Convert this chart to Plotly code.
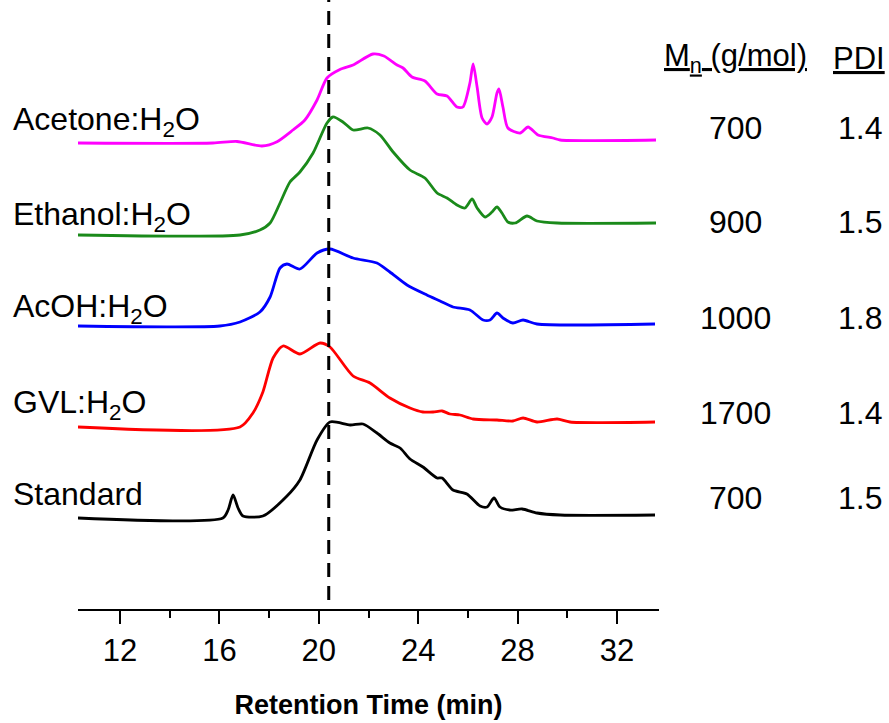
import plotly.graph_objects as go

# ---- data (retention time in min, detector signal in arbitrary units above each baseline) ----
acetone_t = [10.31, 15.74, 16.71, 17.71, 18.32, 18.96, 19.44, 19.93, 20.33, 20.85, 21.38, 22.18, 22.62,
             23.15, 23.39, 23.75, 24.27, 24.76, 25.16, 25.56, 25.80, 26.08, 26.21, 26.37, 26.57, 26.77, 26.97,
             27.17, 27.25, 27.41, 27.61, 28.10, 28.42, 28.82, 29.42, 29.71, 33.57]
acetone_s = [0, 0, 1.5, -3, 1.3, 13, 23, 43, 65, 73.5, 78, 89, 87,
             78, 75, 66, 62, 49, 47, 36, 36, 60, 79, 56, 25, 19, 26,
             50, 54, 36, 15, 10, 16, 8, 5, 3, 3]

ethanol_t = [10.31, 16.83, 17.63, 18.04, 18.44, 18.84, 19.24, 19.77, 20.33, 20.57, 20.97, 21.38, 21.98, 22.46,
             22.99, 23.67, 24.27, 24.76, 25.16, 25.56, 25.88, 26.17, 26.37, 26.69, 26.97, 27.17, 27.37, 27.61,
             27.90, 28.38, 28.78, 29.59, 33.57]
ethanol_s = [0, 0, 5, 12, 32, 53, 63, 82, 112, 118, 113, 105, 107, 100,
             83, 65, 57, 42, 37, 30, 27, 36, 27, 18, 23, 28, 22, 13,
             12, 19, 14, 12, 12]

acoh_t = [10.31, 16.02, 16.83, 17.63, 18.04, 18.44, 18.72, 19.24, 19.93, 20.45, 21.38, 22.34, 22.86, 23.55,
          24.35, 24.88, 25.40, 26.08, 26.61, 26.89, 27.17, 27.41, 27.81, 28.22, 28.78, 33.53]
acoh_s = [0, 0, 4, 14, 29, 58, 62, 57, 73, 77, 68, 63, 54, 41,
          31, 25, 19, 16, 6, 6, 13, 8, 3, 6, 2, 2]

gvl_t = [10.31, 16.83, 17.35, 17.75, 18.16, 18.56, 19.24, 20.05, 20.45, 21.38, 22.06, 22.86, 23.67, 24.19,
         24.60, 24.96, 25.28, 25.68, 26.21, 27.17, 27.81, 28.22, 28.78, 29.59, 30.11, 33.53]
gvl_s = [0, 0, 14, 35, 69, 81, 73, 84, 80, 51, 44, 29, 19, 15,
         15, 16, 13, 12, 8, 7, 6, 9, 5, 8, 5, 5]

std_t = [10.31, 16.14, 16.35, 16.55, 16.75, 16.95, 17.75, 18.72, 19.24, 19.93, 20.45, 21.26, 21.78, 22.34,
         22.86, 23.27, 23.67, 24.19, 24.76, 24.96, 25.40, 25.96, 26.49, 26.77, 27.05, 27.29, 27.69, 28.18,
         28.78, 29.71, 33.53]
std_s = [0, 0, 8, 23, 10, 2, 2, 22, 38, 78, 96, 93, 94, 85,
         75, 70, 59, 51, 40, 40, 28, 24, 12, 11, 20, 11, 8, 9,
         5, 3, 3]

series_names = ["Acetone:H<sub>2</sub>O", "Ethanol:H<sub>2</sub>O", "AcOH:H<sub>2</sub>O",
                "GVL:H<sub>2</sub>O", "Standard"]
series_offsets = [466, 374, 283, 182, 91]
series_colors = ["#FF00FF", "#1A8A1A", "#0000FF", "#FF0000", "#000000"]
mn_values = ["700", "900", "1000", "1700", "700"]
pdi_values = ["1.4", "1.5", "1.8", "1.4", "1.5"]
ref_time = 20.4
x_ticks = [12, 16, 20, 24, 28, 32]
x_minor_ticks = [14, 18, 22, 26, 30]

series_t = [acetone_t, ethanol_t, acoh_t, gvl_t, std_t]
series_s = [acetone_s, ethanol_s, acoh_s, gvl_s, std_s]

# ---- layout helpers (pixel geometry) ----
W, H = 889, 723
ML, MR, MT, MB = 78, 230, 0, 114
PW, PH = W - ML - MR, H - MT - MB


def px(xp):
    return (xp - ML) / PW


def py(yp):
    return (H - MB - yp) / PH


FONT = "Liberation Sans, Arial, sans-serif"

fig = go.Figure()
for t, s, off, c in zip(series_t, series_s, series_offsets, series_colors):
    fig.add_trace(go.Scatter(x=t, y=[off + v for v in s], mode="lines",
                             line=dict(color=c, width=2.8, shape="spline", smoothing=0.7),
                             showlegend=False, hoverinfo="skip"))

fig.add_shape(type="line", xref="x", yref="y", x0=ref_time, x1=ref_time, y0=9, y1=PH,
              line=dict(color="black", width=3, dash="14px,9px"))

label_y = [122, 216, 308, 404, 494]
mn_y = [128, 222, 318, 413, 498]
for name, ly, mn, pdi, my in zip(series_names, label_y, mn_values, pdi_values, mn_y):
    fig.add_annotation(text=name, xref="paper", yref="paper", x=px(11), y=py(ly),
                       xanchor="left", yanchor="middle", showarrow=False,
                       font=dict(family=FONT, size=32, color="black"))
    fig.add_annotation(text=mn, xref="paper", yref="paper", x=px(735), y=py(my),
                       xanchor="center", yanchor="middle", showarrow=False,
                       font=dict(family=FONT, size=32, color="black"))
    fig.add_annotation(text=pdi, xref="paper", yref="paper", x=px(860), y=py(my),
                       xanchor="center", yanchor="middle", showarrow=False,
                       font=dict(family=FONT, size=32, color="black"))

fig.add_annotation(text="<u>M<sub>n</sub> (g/mol)</u>", xref="paper", yref="paper", x=px(735), y=py(58),
                   xanchor="center", yanchor="middle", showarrow=False,
                   font=dict(family=FONT, size=31, color="black"))
fig.add_annotation(text="<u>PDI</u>", xref="paper", yref="paper", x=px(859), y=py(58),
                   xanchor="center", yanchor="middle", showarrow=False,
                   font=dict(family=FONT, size=31, color="black"))

fig.update_layout(
    width=W, height=H,
    margin=dict(l=ML, r=MR, t=MT, b=MB, pad=0),
    paper_bgcolor="white", plot_bgcolor="white",
    xaxis=dict(range=[10.31, 33.69], tickvals=x_ticks, ticks="outside", ticklen=13, tickwidth=2,
               tickcolor="black", showline=True, linecolor="black", linewidth=2, showgrid=False,
               zeroline=False, tickfont=dict(family=FONT, size=31, color="black"),
               minor=dict(tickvals=x_minor_ticks, ticks="outside", ticklen=7, tickwidth=2,
                          tickcolor="black", showgrid=False),
               title=dict(text="<b>Retention Time (min)</b>", standoff=28,
                          font=dict(family=FONT, size=27, color="black"))),
    yaxis=dict(range=[0, PH], visible=False, showgrid=False, zeroline=False),
)

fig.write_html("out.html")
